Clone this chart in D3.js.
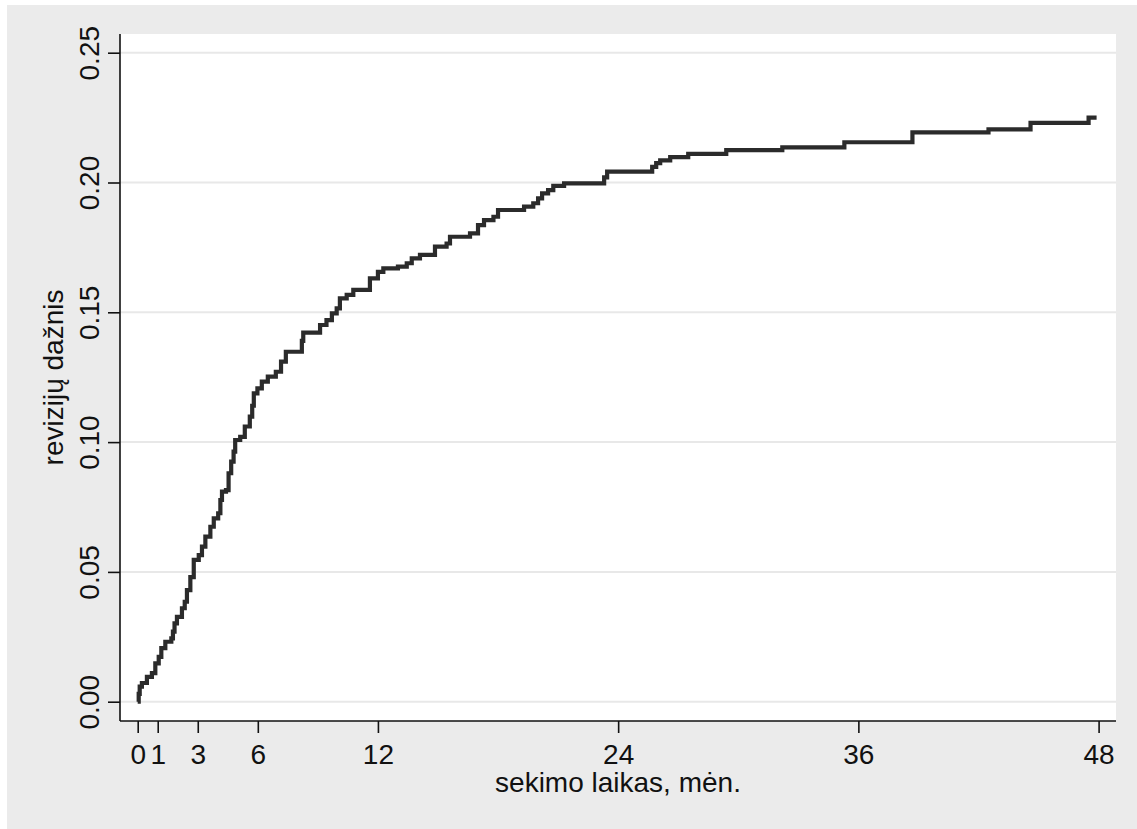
<!DOCTYPE html>
<html>
<head>
<meta charset="utf-8">
<script src="https://cdn.jsdelivr.net/npm/d3@7"></script>
<style>
  html, body { margin: 0; padding: 0; background: #ffffff; }
  svg { display: block; font-family: "Liberation Sans", Arial, sans-serif; }
</style>
</head>
<body>
<svg id="chart" width="1137" height="829"></svg>
<script>
// Cumulative revision frequency over follow-up (months), step function
const stepTimes = [
  0, 0.05, 0.1, 0.21, 0.46, 0.71, 0.88, 1.05, 1.18, 1.38, 1.68, 1.76, 1.84, 1.96,
  2.21, 2.35, 2.46, 2.63, 2.80, 3.05, 3.21, 3.38, 3.63, 3.80, 4.02, 4.13, 4.21,
  4.41, 4.54, 4.67, 4.79, 4.87, 5.12, 5.35, 5.60, 5.72, 5.80, 5.98, 6.20, 6.50,
  6.90, 7.16, 7.40, 8.20, 8.27, 9.11, 9.43, 9.70, 9.94, 10.10, 10.44, 10.77,
  11.60, 12.00, 12.27, 13.00, 13.44, 13.69, 14.10, 14.85, 15.43, 15.60, 16.60,
  17.00, 17.30, 17.77, 18.00, 19.30, 19.76, 20.00, 20.20, 20.50, 20.76, 21.30,
  23.30, 23.45, 25.70, 25.90, 26.10, 26.60, 27.50, 29.40, 32.20, 35.30, 38.70,
  42.50, 44.60, 47.50, 47.90
];
const stepValues = [
  0, 0.0030, 0.0058, 0.0072, 0.0096, 0.0110, 0.0148, 0.0173, 0.0206, 0.0231, 0.0244, 0.0270, 0.0302, 0.0327,
  0.0360, 0.0385, 0.0430, 0.0480, 0.0546, 0.0565, 0.0597, 0.0636, 0.0674, 0.0706, 0.0726, 0.0777, 0.0809,
  0.0815, 0.0880, 0.0925, 0.0963, 0.1008, 0.1020, 0.1060, 0.1098, 0.1140, 0.1188, 0.1207, 0.1233, 0.1252,
  0.1271, 0.1310, 0.1348, 0.1390, 0.1422, 0.1451, 0.1470, 0.1496, 0.1515, 0.1554, 0.1567, 0.1586,
  0.1631, 0.1656, 0.1669, 0.1676, 0.1689, 0.1708, 0.1721, 0.1753, 0.1765, 0.1791, 0.1804,
  0.1836, 0.1855, 0.1868, 0.1894, 0.1907, 0.1920, 0.1939, 0.1958, 0.1971, 0.1987, 0.1997,
  0.2020, 0.2042, 0.2060, 0.2075, 0.2085, 0.2098, 0.2110, 0.2125, 0.2135, 0.2155, 0.2193,
  0.2205, 0.2230, 0.2250, 0.2250
];
const xTicks = [0, 1, 3, 6, 12, 24, 36, 48];
const yTicks = [0, 0.05, 0.10, 0.15, 0.20, 0.25];
const xTitle = "sekimo laikas, mėn.";
const yTitle = "revizijų dažnis";

const svg = d3.select("#chart");

// Outer panel and plot region
const plot = { left: 120, top: 34, right: 1116, bottom: 721 };
svg.append("rect").attr("x", 7).attr("y", 5).attr("width", 1130).attr("height", 824)
  .attr("fill", "#ebebeb");
svg.append("rect").attr("x", plot.left).attr("y", plot.top)
  .attr("width", plot.right - plot.left).attr("height", plot.bottom - plot.top)
  .attr("fill", "#ffffff");

const x = d3.scaleLinear().domain([0, 48]).range([137.7, 1098.6]);
const y = d3.scaleLinear().domain([0, 0.25]).range([701.7, 52.7]);

// Horizontal grid lines
svg.append("g").selectAll("line").data(yTicks).join("line")
  .attr("x1", plot.left).attr("x2", plot.right)
  .attr("y1", d => y(d)).attr("y2", d => y(d))
  .attr("stroke", "#e8e8e8").attr("stroke-width", 2);

// Step curve
const data = stepTimes.map((t, i) => ({ t, v: stepValues[i] }));
const line = d3.line().x(d => x(d.t)).y(d => y(d.v)).curve(d3.curveStepAfter);
svg.append("path").datum(data).attr("d", line)
  .attr("fill", "none").attr("stroke", "#2b2b2b").attr("stroke-width", 4.2)
  .attr("stroke-linejoin", "miter").attr("stroke-linecap", "butt");

// Axes
const yAxis = d3.axisLeft(y).tickValues(yTicks).tickFormat(d3.format(".2f"))
  .tickSize(12).tickSizeOuter(0);
const gy = svg.append("g").attr("transform", `translate(${plot.left},0)`).call(yAxis);
gy.select(".domain").remove();
gy.selectAll(".tick line").attr("stroke", "#111").attr("stroke-width", 1.6);
gy.selectAll(".tick text")
  .attr("x", null).attr("dy", null).attr("y", null)
  .attr("text-anchor", "middle")
  .attr("transform", "translate(-21,0) rotate(-90)")
  .attr("fill", "#111").style("font-size", "28px")
  .style("font-family", "'Liberation Sans', Arial, sans-serif");

const xAxis = d3.axisBottom(x).tickValues(xTicks).tickFormat(d3.format("d"))
  .tickSize(12).tickSizeOuter(0);
const gx = svg.append("g").attr("transform", `translate(0,${plot.bottom})`).call(xAxis);
gx.select(".domain").remove();
gx.selectAll(".tick line").attr("stroke", "#111").attr("stroke-width", 1.6);
gx.selectAll(".tick text")
  .attr("dy", null).attr("y", 43)
  .attr("fill", "#111").style("font-size", "28px")
  .style("font-family", "'Liberation Sans', Arial, sans-serif");

// Axis lines along the plot region edges
svg.append("line").attr("x1", plot.left).attr("x2", plot.left)
  .attr("y1", plot.top).attr("y2", plot.bottom)
  .attr("stroke", "#111").attr("stroke-width", 1.6);
svg.append("line").attr("x1", plot.left).attr("x2", plot.right)
  .attr("y1", plot.bottom).attr("y2", plot.bottom)
  .attr("stroke", "#111").attr("stroke-width", 1.6);

// Axis titles
svg.append("text").attr("x", (plot.left + plot.right) / 2).attr("y", 791.5)
  .attr("text-anchor", "middle").attr("fill", "#111").style("font-size", "28px")
  .text(xTitle);
svg.append("text")
  .attr("transform", `translate(63,${(plot.top + plot.bottom) / 2}) rotate(-90)`)
  .attr("text-anchor", "middle").attr("fill", "#111").style("font-size", "28px")
  .text(yTitle);
</script>
</body>
</html>
